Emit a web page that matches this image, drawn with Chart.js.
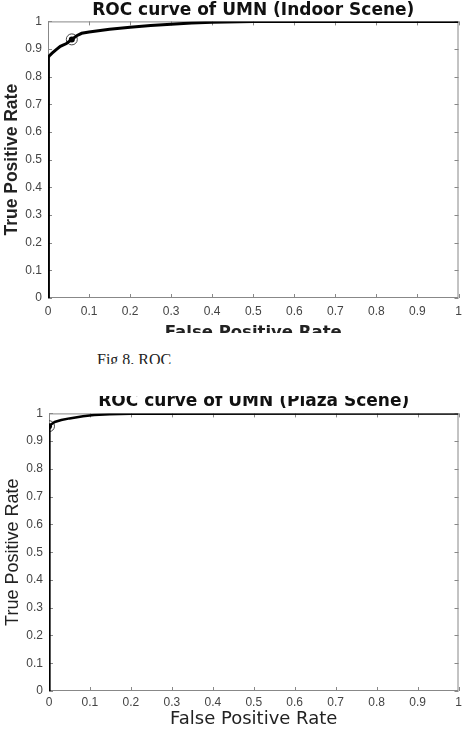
<!DOCTYPE html>
<html>
<head>
<meta charset="utf-8">
<script src="https://cdn.jsdelivr.net/npm/chart.js@4.4.0/dist/chart.umd.min.js"></script>
<style>
  html, body { margin: 0; padding: 0; background: #fff; }
  body { width: 462px; height: 730px; position: relative; overflow: hidden; }
  .box { position: absolute; left: 0; width: 465px; }
  .mask { position: absolute; left: 0; width: 462px; background: #fff; z-index: 5; }
  #figText { position: absolute; left: 97px; top: 351px; font: 16px "Liberation Serif", serif; color: #222; z-index: 3; }
</style>
</head>
<body>
<div class="box" id="topBox" style="top:0; height:345px;"><canvas id="indoorChart"></canvas></div>
<div class="box" id="bottomBox" style="top:388px; height:342px;"><canvas id="plazaChart"></canvas></div>
<div id="figText">Fig 8. ROC</div>
<div class="mask" style="top:333px; height:17px;"></div>
<div class="mask" style="top:364px; height:32px;"></div>
<script>
// tick positions and labels (both axes)
const tickVals = [0, 0.1, 0.2, 0.3, 0.4, 0.5, 0.6, 0.7, 0.8, 0.9, 1];
const tickLabels = ["0", "0.1", "0.2", "0.3", "0.4", "0.5", "0.6", "0.7", "0.8", "0.9", "1"];

// ROC curve, indoor scene
const indoorFpr = [0, 0.001, 0.003, 0.01, 0.02, 0.03, 0.045, 0.058, 0.07, 0.082, 0.1, 0.15, 0.2, 0.25, 0.3, 0.35, 0.4, 0.5, 1];
const indoorTpr = [0, 0.87, 0.875, 0.885, 0.898, 0.91, 0.92, 0.935, 0.948, 0.957, 0.962, 0.972, 0.979, 0.985, 0.99, 0.994, 0.997, 1, 1];
const indoorMarker = [0.058, 0.935];

// ROC curve, plaza scene
const plazaFpr = [0, 0.001, 0.005, 0.014, 0.03, 0.05, 0.083, 0.11, 0.148, 0.2, 1];
const plazaTpr = [0, 0.954, 0.96, 0.969, 0.976, 0.982, 0.99, 0.994, 0.997, 0.999, 1];
const plazaMarker = [0, 0.954];

const sans = "'Liberation Sans', Arial, sans-serif";
const wide = "'DejaVu Sans', sans-serif";

// MATLAB style box with inward ticks on all four sides
const boxPlugin = {
  id: "matlabBox",
  beforeDatasetsDraw(chart) {
    const { ctx, chartArea: a, scales } = chart;
    ctx.save();
    ctx.strokeStyle = "#888";
    ctx.lineWidth = 1;
    ctx.strokeRect(a.left + 0.5, a.top + 0.5, a.width - 1, a.height - 1);
    ctx.beginPath();
    tickVals.forEach(function (v) {
      const px = Math.round(scales.x.getPixelForValue(v)) + 0.5;
      ctx.moveTo(px, a.bottom); ctx.lineTo(px, a.bottom - 4);
      ctx.moveTo(px, a.top); ctx.lineTo(px, a.top + 4);
      const py = Math.round(scales.y.getPixelForValue(v)) + 0.5;
      ctx.moveTo(a.left, py); ctx.lineTo(a.left + 4, py);
      ctx.moveTo(a.right, py); ctx.lineTo(a.right - 4, py);
    });
    ctx.stroke();
    ctx.restore();
  },
};

function toPoints(xs, ys) {
  return xs.map(function (v, i) { return { x: v, y: ys[i] }; });
}

function rocChart(canvasId, opts) {
  const ctx = document.getElementById(canvasId).getContext("2d");
  const axis = function (isY, size, titleText, titleFont) {
    return {
      type: "linear",
      min: 0,
      max: 1,
      grid: { display: false, drawTicks: false },
      border: { display: false },
      afterBuildTicks: function (scale) {
        scale.ticks = tickVals.map(function (v) { return { value: v }; });
      },
      afterFit: function (scale) {
        if (isY) scale.width = size;
        else scale.height = size;
      },
      ticks: {
        color: "#444",
        font: { family: sans, size: 12, lineHeight: isY ? 1.2 : opts.xTickLine },
        padding: isY ? 6 : 0,
        maxRotation: 0,
        autoSkip: false,
        callback: function (v) { return tickLabels[tickVals.indexOf(Math.round(v * 10) / 10)]; },
      },
      title: {
        display: true,
        text: titleText,
        color: "#222",
        font: titleFont,
        padding: { top: 2, bottom: 0 },
      },
    };
  };
  return new Chart(ctx, {
    type: "scatter",
    data: {
      datasets: [
        {
          data: toPoints(opts.fpr, opts.tpr),
          showLine: true,
          borderColor: "#000",
          borderWidth: opts.lineWidth,
          pointRadius: 0,
          tension: 0,
        },
        {
          data: [{ x: opts.marker[0], y: opts.marker[1] }],
          pointRadius: 5.5,
          pointBackgroundColor: "rgba(255,255,255,0)",
          pointBorderColor: "#444",
          pointBorderWidth: 1,
        },
        {
          data: [{ x: opts.marker[0], y: opts.marker[1] }],
          pointRadius: 3,
          pointBackgroundColor: "#000",
          pointBorderColor: "#000",
          pointBorderWidth: 0,
        },
      ],
    },
    options: {
      responsive: true,
      maintainAspectRatio: false,
      animation: false,
      layout: { padding: opts.padding },
      plugins: {
        legend: { display: false },
        tooltip: { enabled: false },
        title: {
          display: true,
          fullSize: false,
          text: opts.title,
          color: "#111",
          font: { family: wide, size: 17, weight: "bold" },
          padding: opts.titlePadding,
        },
      },
      scales: {
        x: axis(false, opts.xHeight, "False Positive Rate", opts.xTitleFont),
        y: axis(true, opts.yWidth, "True Positive Rate", opts.yTitleFont),
      },
    },
    plugins: [boxPlugin],
  });
}

rocChart("indoorChart", {
  title: "ROC curve of UMN (Indoor Scene)",
  fpr: indoorFpr, tpr: indoorTpr, marker: indoorMarker,
  lineWidth: 3,
  xTitleFont: { family: wide, size: 16.5, weight: "bold" },
  yTitleFont: { family: sans, size: 17.5, weight: "bold" },
  xTickLine: 2.2,
  padding: { top: 0, right: 0, bottom: 2, left: 0 },
  titlePadding: { top: 0, bottom: 1 },
  xHeight: 45, yWidth: 48,
});

rocChart("plazaChart", {
  title: "ROC curve of UMN (Plaza Scene)",
  fpr: plazaFpr, tpr: plazaTpr, marker: plazaMarker,
  lineWidth: 2.5,
  xTitleFont: { family: wide, size: 18, weight: "normal" },
  yTitleFont: { family: sans, size: 18, weight: "normal" },
  xTickLine: 1.9,
  padding: { top: 0, right: 0, bottom: 0, left: 0 },
  titlePadding: { top: 3, bottom: 2 },
  xHeight: 39, yWidth: 49,
});
</script>
</body>
</html>
